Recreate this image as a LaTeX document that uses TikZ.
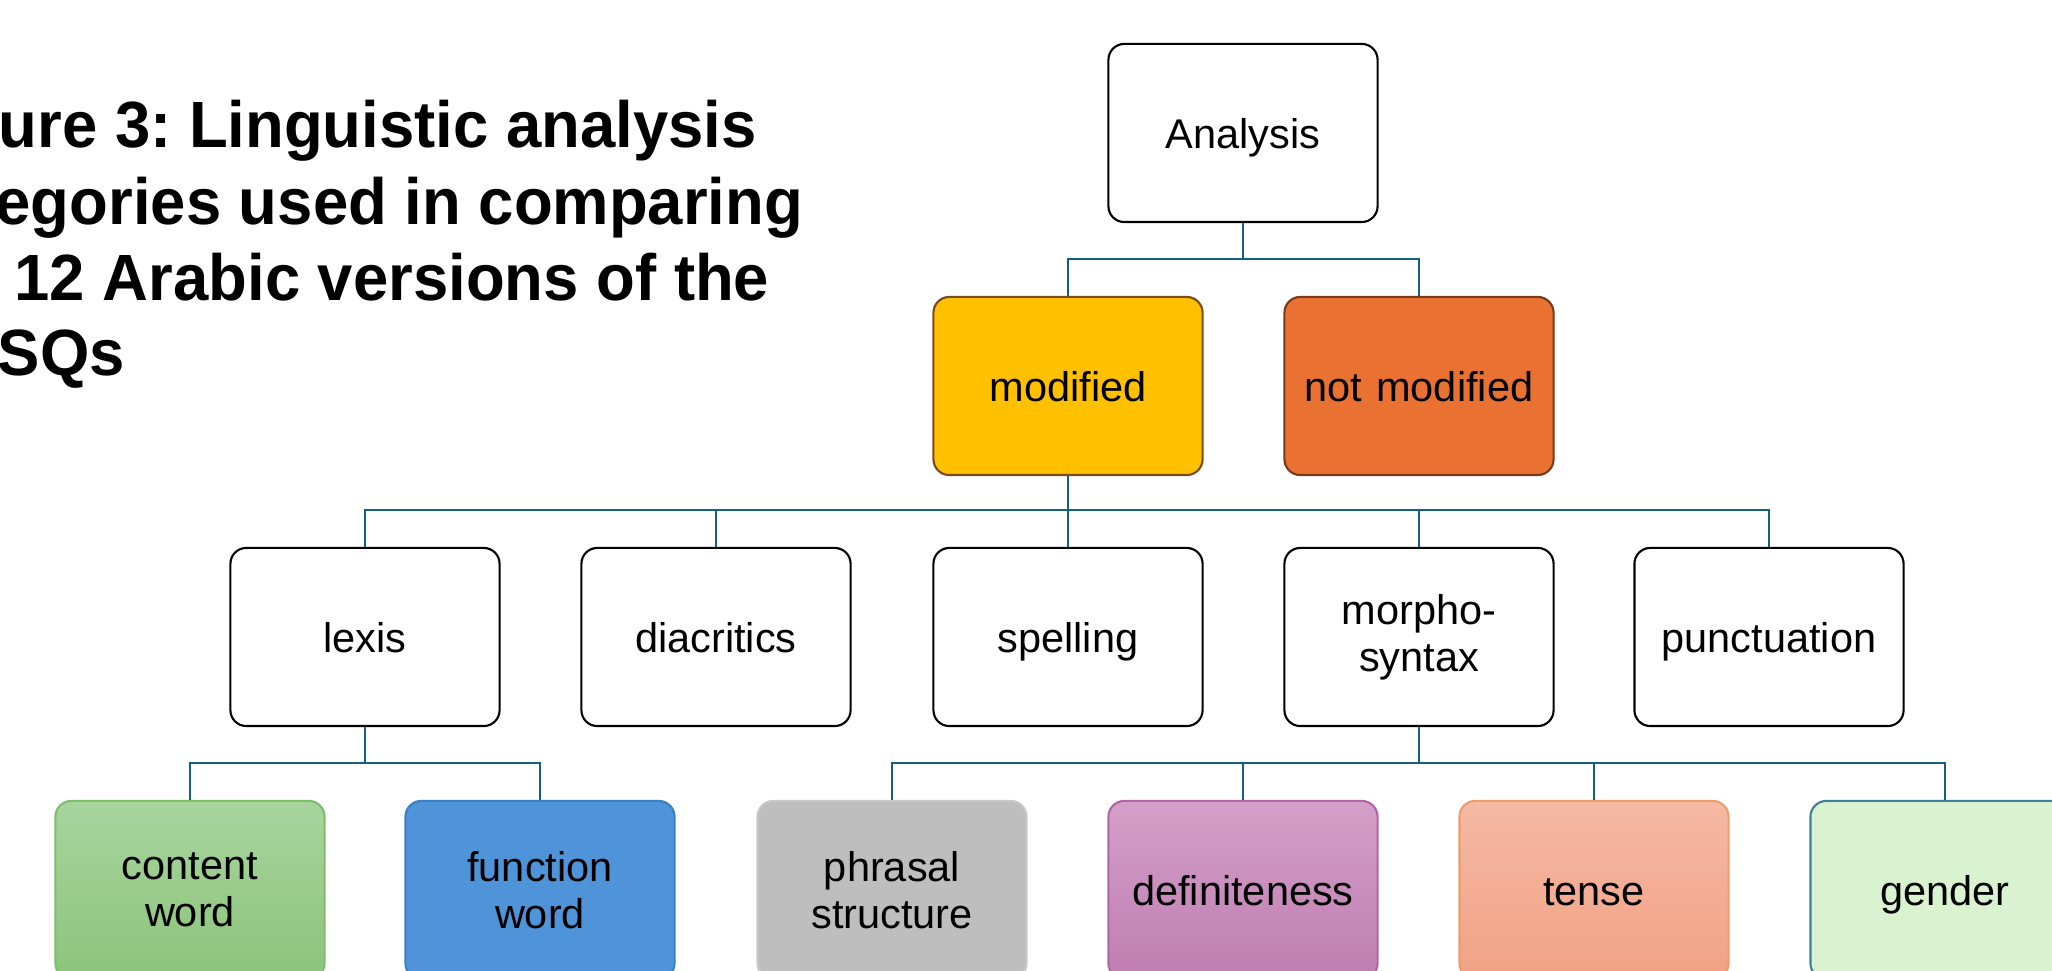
\documentclass[tikz,border=0pt]{standalone}
\usepackage{fontspec}
\usepackage{graphicx}
\setmainfont{Liberation Sans}
\definecolor{linec}{HTML}{156082}
\definecolor{modfill}{HTML}{FFC000}
\definecolor{modedge}{HTML}{7B4A1E}
\definecolor{notfill}{HTML}{E97132}
\definecolor{notedge}{HTML}{7A3A1A}
\definecolor{cwtop}{HTML}{A8D49E}
\definecolor{cwbot}{HTML}{8CC47A}
\definecolor{cwedge}{HTML}{7DBE6A}
\definecolor{fwfill}{HTML}{4F94D8}
\definecolor{fwedge}{HTML}{3A80C9}
\definecolor{psfill}{HTML}{BEBEBE}
\definecolor{psedge}{HTML}{C8C8C8}
\definecolor{dftop}{HTML}{D49FC9}
\definecolor{dfbot}{HTML}{BF7DB1}
\definecolor{dfedge}{HTML}{B065A8}
\definecolor{tstop}{HTML}{F4B9A4}
\definecolor{tsbot}{HTML}{F2A284}
\definecolor{tsedge}{HTML}{EE9C6E}
\definecolor{gdfill}{HTML}{D9F2D0}
\definecolor{gdedge}{HTML}{3E7F99}
\newcommand{\ttltext}[1]{\scalebox{0.97}[1]{#1}}
\frenchspacing
\begin{document}
\begin{tikzpicture}[x=0.01cm,y=-0.01cm,
  box/.style={draw=black, line width=0.6pt, rounded corners=4.5pt,
    minimum width=2.69cm, minimum height=1.78cm, inner sep=0pt,
    text width=2.5cm, align=center,
    font=\fontsize{11.8}{13.4}\selectfont},
  one/.style={text height=8.6pt, text depth=0pt},
  conn/.style={draw=linec, line width=0.6pt},
  ttl/.style={anchor=base west, inner sep=0pt,
    font=\fontsize{18.6}{21.6}\selectfont\bfseries}]
\useasboundingbox (0,0) rectangle (2052,971);

% title (visible part)
\node[ttl] (t1) at (-2,148) {\ttltext{ure 3: Linguistic analysis}};
\node[ttl] (t2) at (-5,225) {\ttltext{egories used in comparing}};
\node[ttl] (t3) at (14,301) {\ttltext{12 Arabic versions of the}};
\node[ttl] (t4) at (-3,376) {\ttltext{SQs}};

% level 0
\node[box, one] (ana) at (1243,133) {Analysis};
% level 1
\node[box, one, fill=modfill, draw=modedge] (mod) at (1068,386) {modified};
\node[box, one, fill=notfill, draw=notedge] (notmod) at (1419,386) {not modified};
% level 2
\node[box, one] (lex) at (365,637) {lexis};
\node[box, one] (dia) at (716,637) {diacritics};
\node[box, one] (spe) at (1068,637) {spelling};
\node[box] (mor) at (1419,637) {morpho-\\syntax};
\node[box, one] (pun) at (1769,637) {punctuation};
% level 3
\node[box, top color=cwtop, bottom color=cwbot, draw=cwedge] (cw) at (190,890) {content\\word};
\node[box, fill=fwfill, draw=fwedge] (fw) at (540,890) {function\\word};
\node[box, fill=psfill, draw=psedge] (ps) at (892,890) {phrasal\\structure};
\node[box, one, top color=dftop, bottom color=dfbot, draw=dfedge] (df) at (1243,890) {definiteness};
\node[box, one, top color=tstop, bottom color=tsbot, draw=tsedge] (ts) at (1594,890) {tense};
\node[box, one, fill=gdfill, draw=gdedge] (gd) at (1945,890) {gender};

% buses
\coordinate (b1) at (0,259);
\coordinate (b2) at (0,510);
\coordinate (b3) at (0,763);

\draw[conn] (ana.south) -- (ana.south |- b1) -| (mod.north);
\draw[conn] (ana.south |- b1) -| (notmod.north);

\draw[conn] (mod.south) -- (mod.south |- b2) -| (lex.north);
\draw[conn] (mod.south |- b2) -| (dia.north);
\draw[conn] (mod.south |- b2) -- (spe.north);
\draw[conn] (mod.south |- b2) -| (mor.north);
\draw[conn] (mod.south |- b2) -| (pun.north);

\draw[conn] (lex.south) -- (lex.south |- b3) -| (cw.north);
\draw[conn] (lex.south |- b3) -| (fw.north);

\draw[conn] (mor.south) -- (mor.south |- b3) -| (ps.north);
\draw[conn] (mor.south |- b3) -| (df.north);
\draw[conn] (mor.south |- b3) -| (ts.north);
\draw[conn] (mor.south |- b3) -| (gd.north);
\end{tikzpicture}
\end{document}
